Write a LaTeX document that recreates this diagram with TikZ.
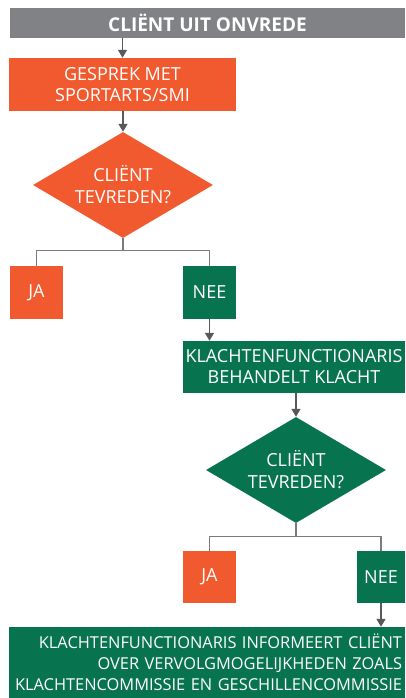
\documentclass[tikz,border=0pt]{standalone}
\usepackage{fontspec}
\setmainfont{Open Sans}
\usetikzlibrary{shapes.geometric,arrows.meta}
\definecolor{orng}{HTML}{F15A2E}
\definecolor{grn}{HTML}{08734F}
\definecolor{topgray}{HTML}{818286}
\definecolor{arrgray}{HTML}{58595B}
\definecolor{linegray}{HTML}{7A7B7E}
\tikzset{
  box/.style={rectangle, inner sep=0pt, text=white, align=center, font=\fontsize{18}{21}\selectfont},
  orbox/.style={box, fill=orng},
  grbox/.style={box, fill=grn},
  dia/.style={diamond, aspect=1.7, inner sep=0pt, text=white, align=center, font=\fontsize{18}{22}\selectfont, minimum width=180pt, minimum height=106pt},
  arr/.style={draw=arrgray, line width=1.4pt, -{Triangle[width=9pt,length=8pt]}},
  branch/.style={draw=linegray, line width=1.3pt}
}
\begin{document}
\begin{tikzpicture}[x=1pt,y=-1pt]
\useasboundingbox (0,0) rectangle (405,698);
\node[box, fill=topgray, minimum width=395pt, minimum height=30pt, font=\fontsize{19}{21}\selectfont\bfseries] (top) at (207.5,23) {CLIËNT UIT ONVREDE};
\node[orbox, minimum width=227pt, minimum height=53pt] (gesprek) at (122.5,84.5) {GESPREK MET\\SPORTARTS/SMI};
\node[dia, fill=orng] (d1) at (123,185) {CLIËNT\\TEVREDEN?};
\node[orbox, minimum width=53pt, minimum height=53pt] (ja1) at (36.5,292.5) {JA};
\node[grbox, minimum width=53pt, minimum height=53pt] (nee1) at (209.5,292.5) {NEE};
\node[grbox, minimum width=222pt, minimum height=52pt] (kf) at (294,367) {KLACHTENFUNCTIONARIS\\BEHANDELT KLACHT};
\node[dia, fill=grn] (d2) at (296,470) {CLIËNT\\TEVREDEN?};
\node[orbox, minimum width=53pt, minimum height=52pt] (ja2) at (209.5,577) {JA};
\node[grbox, minimum width=48pt, minimum height=52pt] (nee2) at (381,577) {NEE};
\node[grbox, minimum width=396pt, minimum height=71pt, text width=390pt, inner xsep=3pt, align=right, font=\fontsize{16.4}{21}\selectfont] (bottom) at (207,662.5) {KLACHTENFUNCTIONARIS INFORMEERT CLIËNT\\OVER VERVOLGMOGELIJKHEDEN ZOALS\\KLACHTENCOMMISSIE EN GESCHILLENCOMMISSIE};
\draw[arr] (gesprek.north |- top.south) -- (gesprek.north);
\draw[arr] (gesprek.south -| d1.north) -- (d1.north);
\draw[branch] (d1.south) -- ++(0,12) coordinate (b1) -| (ja1.north);
\draw[branch] (b1) -| (nee1.north);
\draw[arr] (nee1.south) -- (nee1.south |- kf.north);
\draw[arr] (kf.south -| d2.north) -- (d2.north);
\draw[branch] (d2.south) -- ++(0,13) coordinate (b2) -| (ja2.north);
\draw[branch] (b2) -| (nee2.north);
\draw[arr] (nee2.south) -- (nee2.south |- bottom.north);
\end{tikzpicture}
\end{document}
